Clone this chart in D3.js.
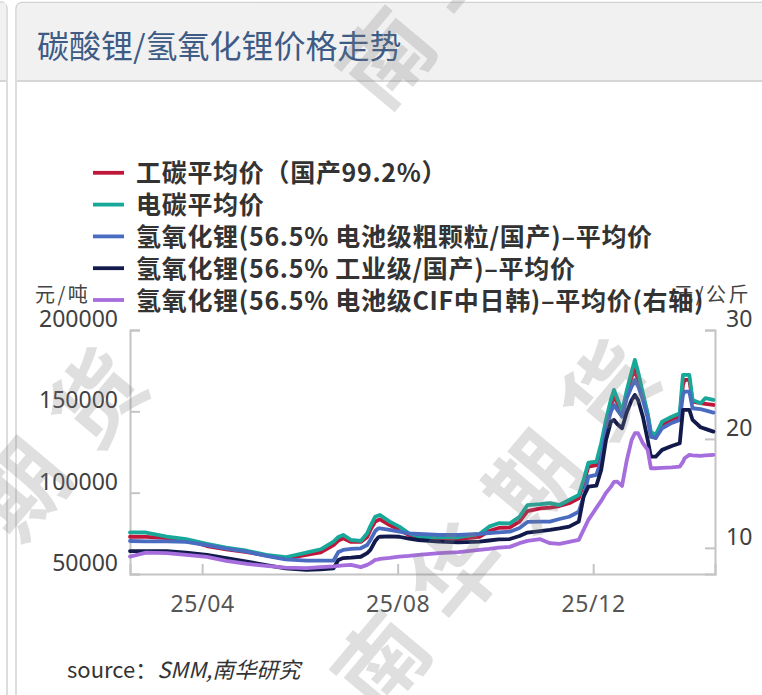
<!DOCTYPE html>
<html><head><meta charset="utf-8">
<script src="https://cdn.jsdelivr.net/npm/d3@7/dist/d3.min.js"></script>
<style>html,body{margin:0;padding:0;background:#fff;}svg{display:block;}</style>
</head><body>
<svg id="c" width="762" height="695"></svg>
<script>
// ---------------- data ----------------
const dates = ["2025-02-15","2025-02-25","2025-03-10","2025-03-22","2025-04-04","2025-04-16","2025-04-29","2025-05-11","2025-05-23","2025-06-05",
"2025-06-14","2025-06-22","2025-06-25","2025-06-28","2025-07-03","2025-07-09","2025-07-13","2025-07-15","2025-07-18","2025-07-20",
"2025-07-21","2025-07-27","2025-08-02","2025-08-08","2025-08-14","2025-08-27","2025-09-08","2025-09-21","2025-09-27","2025-10-03",
"2025-10-10","2025-10-16","2025-10-21","2025-10-29","2025-11-04","2025-11-10","2025-11-16","2025-11-22","2025-11-25","2025-11-28",
"2025-12-03","2025-12-06","2025-12-09","2025-12-12","2025-12-14","2025-12-16","2025-12-19","2025-12-22","2025-12-25","2025-12-27",
"2025-12-29","2026-01-01","2026-01-04","2026-01-06","2026-01-09","2026-01-13","2026-01-19","2026-01-24","2026-01-26","2026-01-27",
"2026-01-30","2026-02-01","2026-02-06","2026-02-09","2026-02-14"];

const indCarbonate = [72900,72800,72100,70900,67200,65100,63500,61400,59400,61700,
63300,67800,70500,72000,69700,69700,72800,77100,82200,83200,
83600,80100,77100,74000,72600,72000,71500,72900,76400,78300,
78600,82200,88700,90300,90800,91800,93500,96600,105800,116000,
117000,126300,142700,153900,159000,155200,147800,160100,171300,175500,
169300,159000,147800,135500,133600,141600,144700,146700,166200,169300,
169300,156000,155000,154600,153900];

const batCarbonate = [75600,75500,73000,71500,68500,66200,64300,61700,60300,63100,
65200,69900,72800,74000,70900,70300,75000,79500,85200,86000,
86300,82200,79100,75000,72900,72600,72600,74600,79100,81200,
81100,85100,92400,92900,93500,92400,95500,98600,107800,118400,
119000,130400,144700,157000,163200,158100,149800,163200,174400,181600,
174400,161100,148800,137300,135500,143700,146700,148800,172400,172400,
172400,157000,155000,158100,157000];

const lihCoarse = [70300,70000,70000,69700,67800,65600,63700,61100,59000,58200,
58200,58300,63500,64800,65400,65800,67800,70900,76400,78100,
78000,77100,76000,75000,74600,74000,74000,74600,75200,75600,
76000,78300,82000,82200,82200,83800,85200,88300,97500,109800,
110900,120100,138600,149600,153900,150900,146700,158200,165200,169300,
165600,157000,145900,134300,133600,139600,142900,144700,160100,162100,
162100,151900,151300,150600,149200];

const lihIndustrial = [64100,64100,64100,63100,61700,59700,57600,55500,53500,52500,
52800,53500,58600,59800,60100,60600,62900,64800,70300,72600,
72900,73100,72900,71800,70900,69900,69500,69900,70600,71300,
71500,73400,75500,76400,77100,78000,79100,82200,97500,103700,
104300,114000,132400,143500,144700,142200,139600,149600,157000,160100,
157000,146700,132400,122100,122100,126300,128700,130400,150900,150900,
150900,144700,140200,139200,137500];

const lihCIF = [9.20,9.57,9.51,9.36,9.17,8.81,8.53,8.35,8.19,8.14,
8.23,8.30,8.35,8.39,8.44,8.23,8.44,8.60,8.90,8.94,
8.99,9.08,9.20,9.27,9.36,9.51,9.61,9.82,9.91,10.03,
10.09,10.43,10.64,10.80,10.43,10.37,10.55,10.73,11.65,12.57,
13.67,14.31,15.05,15.60,16.06,16.08,15.69,18.07,19.91,20.52,
20.52,19.61,18.99,17.31,17.31,17.34,17.39,17.46,17.89,18.23,
18.53,18.49,18.44,18.49,18.53];

const seriesNames = ["工碳平均价（国产99.2%）","电碳平均价","氢氧化锂(56.5% 电池级粗颗粒/国产)–平均价","氢氧化锂(56.5% 工业级/国产)–平均价","氢氧化锂(56.5% 电池级CIF中日韩)–平均价(右轴)"];
const seriesColors = ["#c0163a","#17a899","#4a6cc0","#111a4a","#a66ddd"];
const leftTicks = [50000,100000,150000,200000];
const rightTicks = [10,20,30];
const xTickDates = ["2025-04-01","2025-08-01","2025-12-01"];
const xTickLabels = ["25/04","25/08","25/12"];

// ---------------- drawing ----------------
const svg = d3.select("#c");
const parse = d3.timeParse("%Y-%m-%d");
const CJK = "'Noto Sans CJK SC','Noto Sans',sans-serif";
const LAT = "'Noto Sans','Open Sans',sans-serif";

// panel frames
svg.append("rect").attr("x",-20).attr("y",2).attr("width",27).attr("height",720).attr("rx",6)
  .attr("fill","#fff").attr("stroke","#d2d2d2").attr("stroke-width",1.5);
svg.append("rect").attr("x",-20).attr("y",2.75).attr("width",26.2).attr("height",78).attr("fill","#f1f1f1");
svg.append("line").attr("x1",-20).attr("x2",6.5).attr("y1",81).attr("y2",81).attr("stroke","#d6d6d6").attr("stroke-width",2);

svg.append("rect").attr("x",16).attr("y",2.5).attr("width",780).attr("height",720).attr("rx",6)
  .attr("fill","#fff").attr("stroke","#d2d2d2").attr("stroke-width",1.5);
svg.append("path").attr("d","M16.8,81 L16.8,9 Q16.8,3.3 22.5,3.3 L800,3.3 L800,81 Z").attr("fill","#f1f1f1");
svg.append("line").attr("x1",16.8).attr("x2",800).attr("y1",81).attr("y2",81).attr("stroke","#d6d6d6").attr("stroke-width",2);

svg.append("text").attr("x",37).attr("y",58).attr("font-family",CJK).attr("font-size",32)
  .attr("fill","#3d5b85").text("碳酸锂/氢氧化锂价格走势");

// scales
const x = d3.scaleTime().domain([parse("2025-02-15"), parse("2026-02-15")]).range([130,715]);
const yL = d3.scaleLinear().domain([50000,200000]).range([574,330]);
const yR = d3.scaleLinear().domain([7.6,30]).range([574,330]);

const axisCol = "#c4c4c4";
const gL = svg.append("g").attr("transform","translate(130,0)")
  .call(d3.axisLeft(yL).tickValues(leftTicks).tickSize(-10).tickPadding(12).tickFormat(d3.format("d")));
const gR = svg.append("g").attr("transform","translate(715,0)")
  .call(d3.axisRight(yR).tickValues(rightTicks).tickSize(-10).tickPadding(11).tickFormat(d3.format("d")));
const gB = svg.append("g").attr("transform","translate(0,574)")
  .call(d3.axisBottom(x).tickValues(xTickDates.map(parse)).tickSize(-10).tickPadding(0)
    .tickFormat((d,i)=>xTickLabels[i]));
[gL,gR,gB].forEach(g=>{
  g.selectAll(".domain").attr("stroke",axisCol).attr("stroke-width",2);
  g.selectAll(".tick line").attr("stroke",axisCol).attr("stroke-width",2);
  g.selectAll(".tick text").attr("font-family",LAT).attr("font-size",23).attr("fill","#404040");
});
gL.selectAll(".tick text").attr("dy","-0.15em");
gR.selectAll(".tick text").attr("dy","-0.15em");
gB.selectAll(".tick text").attr("y",38).attr("dy",0).attr("fill","#555").attr("letter-spacing",0.6);

// axis titles
svg.append("text").attr("x",35).attr("y",302).attr("font-family",CJK).attr("font-size",20)
  .attr("letter-spacing",2.5).attr("fill","#444").text("元/吨");
svg.append("text").attr("x",751).attr("y",302).attr("text-anchor","end").attr("font-family",CJK).attr("font-size",20)
  .attr("letter-spacing",2.5).attr("fill","#444").text("元/公斤");

// lines
const seriesData = [indCarbonate, batCarbonate, lihCoarse, lihIndustrial, lihCIF];
const seriesScale = [yL,yL,yL,yL,yR];
const plot = svg.append("g");
seriesData.forEach((vals,i)=>{
  const sc = seriesScale[i];
  const line = d3.line().x((d,j)=>x(parse(dates[j]))).y(d=>sc(d)).curve(d3.curveLinear);
  plot.append("path").datum(vals).attr("d",line).attr("fill","none")
    .attr("stroke",seriesColors[i]).attr("stroke-width",3.8).attr("stroke-linejoin","round").attr("stroke-linecap","round");
});

// legend
const lg = svg.append("g");
seriesNames.forEach((name,i)=>{
  const cy = 172.8 + i*31.8;
  lg.append("line").attr("x1",93).attr("x2",124).attr("y1",cy).attr("y2",cy)
    .attr("stroke",seriesColors[i]).attr("stroke-width",3.8);
  lg.append("text").attr("x",136).attr("y",cy+9.5).attr("font-family",CJK).attr("font-size",25)
    .attr("font-weight",700).attr("letter-spacing",0.7).attr("fill","#333").text(name);
});

// source
const src = svg.append("text").attr("x",67).attr("y",678).attr("font-family",CJK).attr("font-size",22).attr("fill","#333");
src.append("tspan").text("source：");
src.append("tspan").attr("font-style","italic").text("SMM,南华研究");

// watermarks
const wm = svg.append("g").attr("pointer-events","none");
[[500,512],[-12,520],[505,-92]].forEach(([cx,cy])=>{
  wm.append("text").attr("transform",`translate(${cx},${cy}) rotate(-50)`)
    .attr("text-anchor","middle").attr("dominant-baseline","central")
    .attr("font-family",CJK).attr("font-size",90).attr("font-weight",700)
    .attr("letter-spacing",28).attr("fill","#808080").attr("fill-opacity",0.25)
    .text("南华期货");
});
</script>
</body></html>
